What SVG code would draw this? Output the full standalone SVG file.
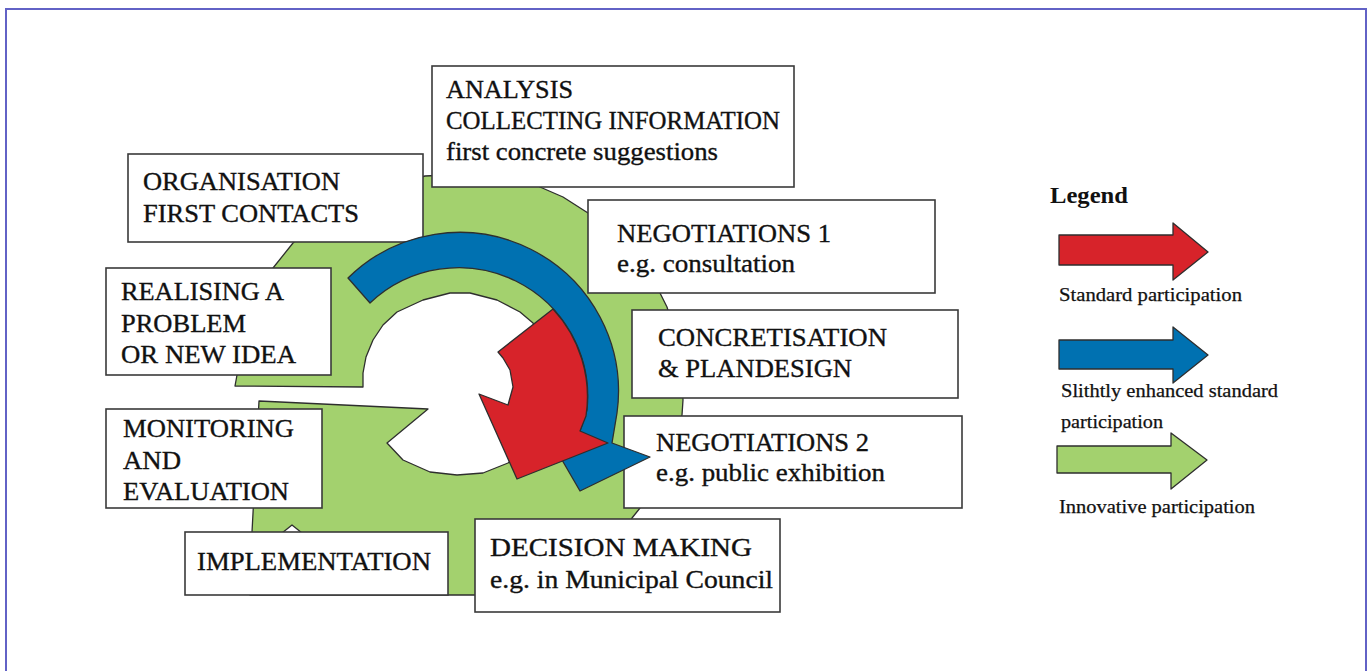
<svg xmlns="http://www.w3.org/2000/svg" width="1372" height="671" viewBox="0 0 1372 671">
  <style>
    .box { fill: #ffffff; stroke: #3a3a3a; stroke-width: 1.6; }
    .lbl { font-family: "Liberation Serif", "Times New Roman", serif; font-size: 26px; fill: #111111; stroke: #111111; stroke-width: 0.35; }
    .leg { font-family: "Liberation Serif", "Times New Roman", serif; font-size: 19px; fill: #111111; stroke: #111111; stroke-width: 0.25; }
    .legh { font-family: "Liberation Serif", "Times New Roman", serif; font-size: 23px; font-weight: bold; fill: #111111; }
    .edge { stroke: #2e2e2e; stroke-width: 1.3; stroke-linejoin: round; }
    .green { fill: #a3d16e; }
    .red { fill: #d7232a; }
    .blue { fill: #0071b1; }
  </style>

  <rect width="1372" height="671" fill="#ffffff"/>
  <!-- page frame -->
  <rect x="6" y="9" width="1360" height="680" fill="none" stroke="#6262c6" stroke-width="2"/>

  <!-- green cycle ring behind the stage boxes -->
  <g id="cycle-ring">
    <path class="green edge" d="M 425,176 L 470,174 L 530,180 L 540,187 L 563,197 L 588,213 L 640,250 L 660,293 L 667,307 L 680,350 L 683,400 L 682,415 L 665,470 L 640,508 L 632,518 L 600,580 L 560,595 L 250,595 L 252,532 L 259,401 L 428,409 L 387,443 L 403,460 L 430,472 L 457,475 L 483,473 L 508,463 L 530,445 L 545,420 L 550,390 L 547,357 L 533,323 L 520,312 L 497,300 L 470,293 L 450,293 L 423,300 L 397,312 L 383,325 L 373,340 L 366,357 L 363,373 L 363,387 L 235,386 L 237,375 L 255,300 L 273,268 L 293,243 L 340,200 Z"/>
    <polygon points="282,533 292,525 302,533" fill="#ffffff" class="edge"/>
  </g>

  <!-- stage boxes -->
  <g id="node-analysis">
    <rect class="box" x="432" y="66" width="362" height="121"/>
    <text class="lbl" x="446" y="98" textLength="127" lengthAdjust="spacingAndGlyphs">ANALYSIS</text>
    <text class="lbl" x="446" y="129" textLength="334" lengthAdjust="spacingAndGlyphs">COLLECTING INFORMATION</text>
    <text class="lbl" x="446" y="160" textLength="272" lengthAdjust="spacingAndGlyphs">first concrete suggestions</text>
  </g>
  <g id="node-organisation">
    <rect class="box" x="128" y="154" width="295" height="88"/>
    <text class="lbl" x="143" y="190" textLength="197" lengthAdjust="spacingAndGlyphs">ORGANISATION</text>
    <text class="lbl" x="143" y="222" textLength="216" lengthAdjust="spacingAndGlyphs">FIRST CONTACTS</text>
  </g>
  <g id="node-negotiations-1">
    <rect class="box" x="588" y="200" width="347" height="93"/>
    <text class="lbl" x="617" y="242" textLength="214" lengthAdjust="spacingAndGlyphs">NEGOTIATIONS 1</text>
    <text class="lbl" x="617" y="272" textLength="178" lengthAdjust="spacingAndGlyphs">e.g. consultation</text>
  </g>
  <g id="node-realising">
    <rect class="box" x="106" y="268" width="225" height="107"/>
    <text class="lbl" x="121" y="300" textLength="163" lengthAdjust="spacingAndGlyphs">REALISING A</text>
    <text class="lbl" x="121" y="332" textLength="125" lengthAdjust="spacingAndGlyphs">PROBLEM</text>
    <text class="lbl" x="121" y="363" textLength="175" lengthAdjust="spacingAndGlyphs">OR NEW IDEA</text>
  </g>
  <g id="node-concretisation">
    <rect class="box" x="632" y="310" width="326" height="88"/>
    <text class="lbl" x="658" y="346" textLength="229" lengthAdjust="spacingAndGlyphs">CONCRETISATION</text>
    <text class="lbl" x="658" y="377" textLength="194" lengthAdjust="spacingAndGlyphs">&amp; PLANDESIGN</text>
  </g>
  <g id="node-monitoring">
    <rect class="box" x="106" y="409" width="216" height="99"/>
    <text class="lbl" x="123" y="437" textLength="171" lengthAdjust="spacingAndGlyphs">MONITORING</text>
    <text class="lbl" x="123" y="469" textLength="58" lengthAdjust="spacingAndGlyphs">AND</text>
    <text class="lbl" x="123" y="500" textLength="166" lengthAdjust="spacingAndGlyphs">EVALUATION</text>
  </g>
  <g id="node-negotiations-2">
    <rect class="box" x="624" y="416" width="338" height="92"/>
    <text class="lbl" x="656" y="451" textLength="213" lengthAdjust="spacingAndGlyphs">NEGOTIATIONS 2</text>
    <text class="lbl" x="656" y="481" textLength="229" lengthAdjust="spacingAndGlyphs">e.g. public exhibition</text>
  </g>
  <g id="node-implementation">
    <rect class="box" x="185" y="532" width="263" height="63"/>
    <text class="lbl" x="197" y="570" textLength="234" lengthAdjust="spacingAndGlyphs">IMPLEMENTATION</text>
  </g>
  <g id="node-decision">
    <rect class="box" x="475" y="519" width="305" height="93"/>
    <text class="lbl" x="490" y="556" textLength="262" lengthAdjust="spacingAndGlyphs">DECISION MAKING</text>
    <text class="lbl" x="490" y="588" textLength="283" lengthAdjust="spacingAndGlyphs">e.g. in Municipal Council</text>
  </g>

  <!-- curved participation arrows -->
  <g id="connectors">
    <path class="blue edge" d="M 348,278 A 159 159 0 0 1 617,413 L 612,443 L 650,457 L 580,491 L 562,460 L 580,431 L 587,410 A 129 129 0 0 0 370,303 Z"/>
    <path class="red edge" d="M 553,309 A 129 129 0 0 1 586,416 L 580,431 L 608,443 L 517,479 L 479,394 L 508,405 L 513,387 L 510,370 L 503,358 L 498,352 Z"/>
  </g>

  <!-- legend -->
  <g id="legend">
    <text class="legh" x="1050" y="203" textLength="78" lengthAdjust="spacingAndGlyphs">Legend</text>
    <polygon class="red edge" points="1059,235 1173,235 1173,223 1208,252 1173,280 1173,265 1059,265"/>
    <text class="leg" x="1059" y="301" textLength="183" lengthAdjust="spacingAndGlyphs">Standard participation</text>
    <polygon class="blue edge" points="1059,340 1173,340 1173,327 1208,355 1173,383 1173,369 1059,369"/>
    <text class="leg" x="1061" y="397" textLength="217" lengthAdjust="spacingAndGlyphs">Slithtly enhanced standard</text>
    <text class="leg" x="1061" y="428" textLength="102" lengthAdjust="spacingAndGlyphs">participation</text>
    <polygon class="green edge" points="1057,446 1171,446 1171,433 1207,460 1171,489 1171,473 1057,473"/>
    <text class="leg" x="1059" y="513" textLength="196" lengthAdjust="spacingAndGlyphs">Innovative participation</text>
  </g>
</svg>
